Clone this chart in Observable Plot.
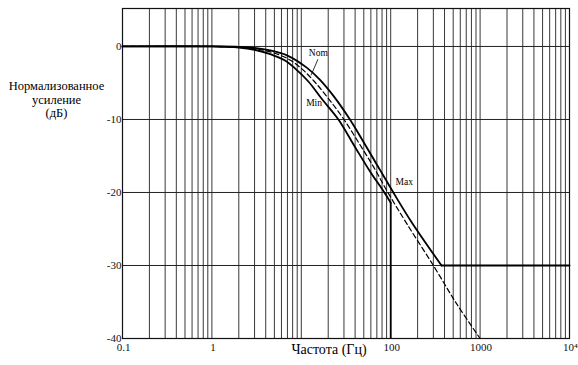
<!DOCTYPE html>
<html><head><meta charset="utf-8">
<script src="https://cdn.jsdelivr.net/npm/d3@7"></script>
<script src="https://cdn.jsdelivr.net/npm/@observablehq/plot@0.6"></script>
<style>
html,body{margin:0;padding:0;background:#fff}
svg, svg text { font-family: "Liberation Serif", "Times New Roman", "DejaVu Serif", serif !important; }
</style>
</head><body><div id="chart"></div>
<script>
// Max curve (solid), floors at -30 dB
const maxFreq = [0.1, 1, 2, 3, 4.5, 7, 11.5, 16, 23, 35, 52, 75, 107, 170, 370];
const maxGain = [0, 0, -0.05, -0.2, -0.55, -1.25, -2.9, -4.5, -6.8, -10, -13.5, -16.8, -20, -24, -30];
const maxFloorFreq = [370, 10000];
const maxFloorGain = [-30, -30];
// Nominal curve (dashed)
const nomFreq = [0.1, 1, 2, 3, 4.5, 7, 10, 14, 20, 30, 45, 65, 93, 150, 300, 550, 1000];
const nomGain = [0, 0, -0.1, -0.3, -0.75, -1.65, -3, -4.8, -7.1, -10, -13.4, -16.6, -20, -24.2, -30, -35.3, -40];
// Min curve (solid), cut off at 100 Hz
const minFreq = [0.1, 1, 2, 3, 4.5, 6.5, 8.5, 12, 17, 26, 40, 60, 85, 100];
const minGain = [0, 0, -0.15, -0.45, -1.05, -1.9, -3, -4.8, -7.2, -10, -13.8, -17.3, -20, -21.4];
const minDropFreq = [100];
const minDropTop = [-21.4];
const minDropBottom = [-40];

// curve labels
const curveNames = ["Nom", "Min", "Max"];
const curveLabelFreq = [15.5, 13.9, 142];
const curveLabelGain = [-0.9, -7.8, -18.6];
// leader line for "Nom"
const leaderFreq = [15.3, 12.9];
const leaderGain = [-1.8, -3.9];

// axes
const xTicks = [0.1, 1, 100, 1000, 10000];
const xTickLabels = ["0.1", "1", "100", "1000", "10\u2074"];
const yTicks = [0, -10, -20, -30, -40];
const yTickLabels = ["0", "-10", "-20", "-30", "-40"];
const xTitle = "Частота (Гц)";
const yTitle = "Нормализованное\nусиление\n(дБ)";

const pts = (fs, gs) => fs.map((f, i) => ({f, g: gs[i]}));
const xLabelMap = new Map(xTicks.map((t, i) => [t, xTickLabels[i]]));
const yLabelMap = new Map(yTicks.map((t, i) => [t, yTickLabels[i]]));
const gridFreqs = d3.scaleLog().domain([0.1, 10000]).ticks(60);
const serif = "Liberation Serif";

const chart = Plot.plot({
  width: 578,
  height: 365,
  marginLeft: 122,
  marginRight: 9,
  marginTop: 8,
  marginBottom: 27,
  style: {fontFamily: serif, fontSize: "11px", background: "#fff", color: "#111"},
  x: {type: "log", domain: [0.1, 10000]},
  y: {domain: [-40, 5.2]},
  marks: [
    Plot.gridX(gridFreqs, {stroke: "#222", strokeOpacity: 1, strokeWidth: 0.9}),
    Plot.gridY(yTicks, {stroke: "#222", strokeOpacity: 1, strokeWidth: 1}),
    Plot.frame({stroke: "#111", strokeWidth: 1.2}),
    Plot.axisX(xTicks, {tickSize: 0, tickPadding: 5, dx: 1, fontSize: 11, tickFormat: d => xLabelMap.get(d), label: null}),
    Plot.axisY(yTicks, {tickSize: 0, tickPadding: 1, fontSize: 11, tickFormat: d => yLabelMap.get(d), label: null}),
    Plot.line(pts(maxFreq, maxGain), {x: "f", y: "g", stroke: "#000", strokeWidth: 1.8, curve: "catmull-rom"}),
    Plot.line(pts(maxFloorFreq, maxFloorGain), {x: "f", y: "g", stroke: "#000", strokeWidth: 1.8}),
    Plot.line(pts(nomFreq, nomGain), {x: "f", y: "g", stroke: "#000", strokeWidth: 1.2, strokeDasharray: "5,3", curve: "catmull-rom"}),
    Plot.line(pts(minFreq, minGain), {x: "f", y: "g", stroke: "#000", strokeWidth: 1.8, curve: "catmull-rom"}),
    Plot.ruleX(minDropFreq.map((f, i) => ({f, y1: minDropTop[i], y2: minDropBottom[i]})), {x: "f", y1: "y1", y2: "y2", stroke: "#000", strokeWidth: 1.8}),
    Plot.line(pts(leaderFreq, leaderGain), {x: "f", y: "g", stroke: "#000", strokeWidth: 0.8}),
    Plot.text(curveNames.map((n, i) => ({n, f: curveLabelFreq[i], g: curveLabelGain[i]})), {x: "f", y: "g", text: "n", fontSize: 9.5, fill: "#000"}),
    Plot.text([xTitle], {frameAnchor: "bottom", dx: -17, dy: 15, fontSize: 14, fill: "#000", textAnchor: "middle"}),
    Plot.text([yTitle], {frameAnchor: "top-left", dx: -66, dy: 91, fontSize: 12.5, lineHeight: 1.08, fill: "#000", textAnchor: "middle", lineAnchor: "middle"})
  ]
});
document.getElementById("chart").appendChild(chart);
</script>
</body></html>
